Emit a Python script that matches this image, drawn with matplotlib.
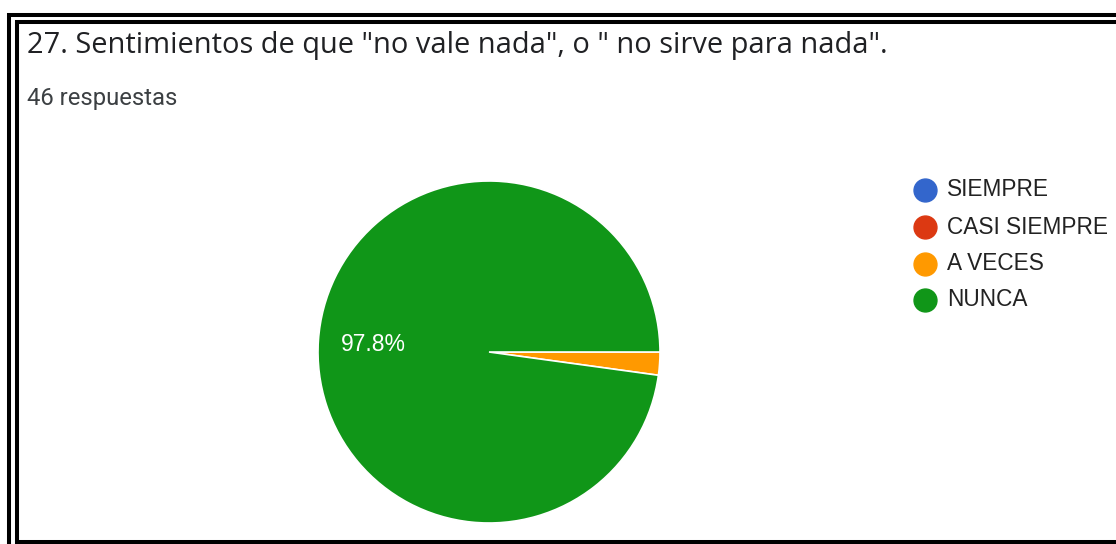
import matplotlib.pyplot as plt
from matplotlib.lines import Line2D

# respuestas a la pregunta 27
categorias = ["SIEMPRE", "CASI SIEMPRE", "A VECES", "NUNCA"]
respuestas = [0, 0, 1, 45]
colores = ["#3366cc", "#dc3912", "#ff9900", "#109618"]
titulo = '27. Sentimientos de que "no vale nada", o " no sirve para nada".'
subtitulo = "46 respuestas"

W, H = 1116, 544
fig = plt.figure(figsize=(W / 100, H / 100), dpi=100)


def px(x, y):
    # pixeles (origen arriba a la izquierda) -> fraccion de figura
    return x / W, 1 - y / H


def linea(x0, y0, x1, y1):
    (a, b), (c, d) = px(x0, y0), px(x1, y1)
    fig.add_artist(Line2D([a, c], [b, d], color="black", lw=2.9,
                          solid_capstyle="butt"))


# marco doble
linea(8.5, 13, 8.5, H)
linea(6.5, 15, W, 15)
linea(16.5, 20, 16.5, 544)
linea(14.5, 22, W, 22)
linea(14.5, 542, W, 542)

fig.text(*px(27, 45), titulo, fontsize=20.9, family="Open Sans",
         color="#202124", va="center", ha="left")
fig.text(*px(27, 98), subtitulo, fontsize=17.2, family="Roboto",
         color="#3c4043", va="center", ha="left")

# pastel: centro (489, 352), radio 171 px
cx, cy, r = 489, 352, 171
x0, y1 = px(cx - r, cy + r)
ax = fig.add_axes([x0, y1, 2 * r / W, 2 * r / H])


def etiqueta(p):
    return f"{p:.1f}%" if p > 5 else ""


wedges, _, autotexts = ax.pie(
    respuestas,
    colors=colores,
    startangle=0,
    counterclock=False,
    autopct=etiqueta,
    pctdistance=0.68,
    wedgeprops=dict(edgecolor="white", linewidth=1.2),
    textprops=dict(color="white", fontsize=16.5, family="Liberation Sans"),
)
ax.set_xlim(-1, 1)
ax.set_ylim(-1, 1)
ax.set_aspect("equal")

# leyenda
filas_y = [190, 227, 264, 300]
for nombre, color, fy in zip(categorias, colores, filas_y):
    fig.add_artist(Line2D([px(925, fy)[0]], [px(925, fy)[1]], marker="o",
                          markersize=16.5, color=color, linestyle="none"))
    fig.text(*px(947, fy), nombre, fontsize=16.3, family="Liberation Sans",
             color="#222222", va="center", ha="left")

fig.savefig("out.png", dpi=100)
